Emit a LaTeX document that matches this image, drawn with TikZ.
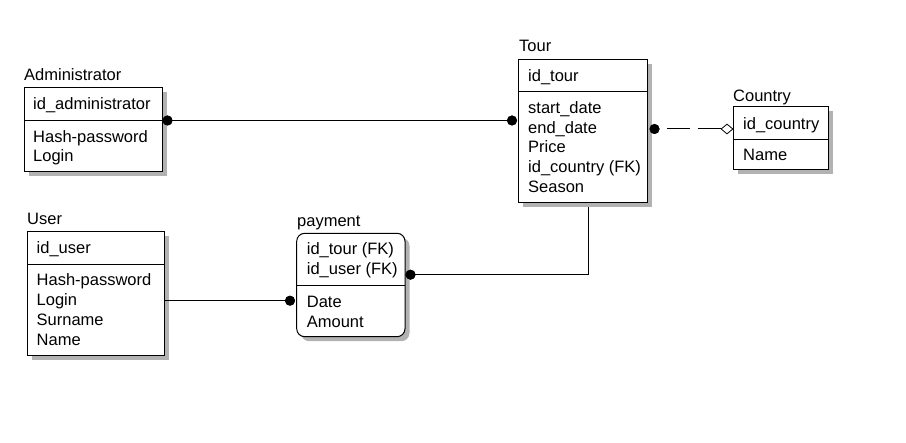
\documentclass[tikz,border=0pt]{standalone}
\usepackage{fontspec}
\setmainfont{Liberation Sans}
\usetikzlibrary{shapes.geometric}
\begin{document}
\begin{tikzpicture}[x=1pt,y=-1pt,
  ent/.style={draw, fill=white, line width=1pt, anchor=north west, inner sep=0pt, outer sep=0pt},
  shadowbox/.style={fill=gray!60},
  txt/.style={anchor=base west, inner sep=0pt, font=\fontsize{16.5}{20}\selectfont},
  ttl/.style={anchor=base west, inner sep=0pt, font=\fontsize{16.5}{20}\selectfont},
  dividerline/.style={line width=1pt},
  conn/.style={line width=1pt},
  dotnode/.style={circle, fill=black, inner sep=0pt, minimum size=10pt},
  diam/.style={diamond, draw, fill=white, line width=0.8pt, inner sep=0pt, minimum width=12pt, minimum height=10pt}
]
\useasboundingbox (0,0) rectangle (906,443);

% ---------- Administrator ----------
\fill[shadowbox] (28.5,92.5) rectangle (166.5,176.5);
\node[ent, minimum width=138pt, minimum height=84pt] (adm) at (24,88) {};
\draw[dividerline] (24,121) -- (162,121);
\node[ttl] (admT) at (24,80.5) {Administrator};
\node[txt] (adm1) at (33,110) {id\_administrator};
\node[txt] (adm2) at (33,142.5) {Hash-password};
\node[txt] (adm3) at (33,161.5) {Login};

% ---------- Tour ----------
\fill[shadowbox] (522.5,64.5) rectangle (651.5,207.5);
\node[ent, minimum width=129pt, minimum height=143pt] (tour) at (518,60) {};
\draw[dividerline] (518,92) -- (647,92);
\node[ttl] (tourT) at (519,51.5) {Tour};
\node[txt] (tour1) at (528,81.5) {id\_tour};
\node[txt] (tour2) at (528,113.3) {start\_date};
\node[txt] (tour3) at (528,133.1) {end\_date};
\node[txt] (tour4) at (528,152.9) {Price};
\node[txt] (tour5) at (528,172.7) {id\_country (FK)};
\node[txt] (tour6) at (528,192.5) {Season};

% ---------- Country ----------
\fill[shadowbox] (737.5,111.5) rectangle (832.5,174.5);
\node[ent, minimum width=95pt, minimum height=63pt] (country) at (733,107) {};
\draw[dividerline] (733,140) -- (828,140);
\node[ttl] (countryT) at (733,101.5) {Country};
\node[txt] (country1) at (743,130) {id\_country};
\node[txt] (country2) at (743,161) {Name};

% ---------- User ----------
\fill[shadowbox] (31.5,236.5) rectangle (168.5,360.5);
\node[ent, minimum width=137pt, minimum height=124pt] (user) at (27,232) {};
\draw[dividerline] (27,265) -- (164,265);
\node[ttl] (userT) at (27,225) {User};
\node[txt] (user1) at (36.5,254) {id\_user};
\node[txt] (user2) at (36.5,286) {Hash-password};
\node[txt] (user3) at (36.5,306) {Login};
\node[txt] (user4) at (36.5,326) {Surname};
\node[txt] (user5) at (36.5,346) {Name};

% ---------- payment ----------
\fill[shadowbox, rounded corners=8pt] (301.2,237.8) rectangle (409.5,341.2);
\node[ent, rounded corners=8pt, minimum width=108.3pt, minimum height=103.4pt] (pay) at (296.7,233.3) {};
\draw[dividerline] (296.7,285.7) -- (405,285.7);
\node[ttl] (payT) at (297,226.5) {payment};
\node[txt] (pay1) at (306.7,255) {id\_tour (FK)};
\node[txt] (pay2) at (306.7,275) {id\_user (FK)};
\node[txt] (pay3) at (306.7,307.3) {Date};
\node[txt] (pay4) at (306.7,327.5) {Amount};

% ---------- connector end points ----------
\node[dotnode] (dAdm) at (167.5,120.5) {};
\node[dotnode] (dTourL) at (512,120.5) {};
\node[dotnode] (dTourR) at (654.5,129) {};
\node[diam] (dCountry) at (727,129) {};
\node[dotnode] (dPayL) at (290,300.7) {};
\node[dotnode] (dPayR) at (410.5,274.7) {};
\coordinate (cUser) at (164,300.7);
\coordinate (cTourB) at (588,207.5);
\coordinate (cBend) at (588,274.7);

% ---------- connectors ----------
\draw[conn] (dAdm.center) -- (dTourL.center);
\draw[conn, dash pattern=on 23pt off 8pt] (dCountry.west) -- (dTourR.center);
\draw[conn] (cUser) -- (dPayL.center);
\draw[conn] (dPayR.center) -- (cBend) -- (cTourB);
\node[dotnode] at (dAdm) {};
\node[dotnode] at (dTourL) {};
\node[dotnode] at (dTourR) {};
\node[dotnode] at (dPayL) {};
\node[dotnode] at (dPayR) {};
\end{tikzpicture}
\end{document}
